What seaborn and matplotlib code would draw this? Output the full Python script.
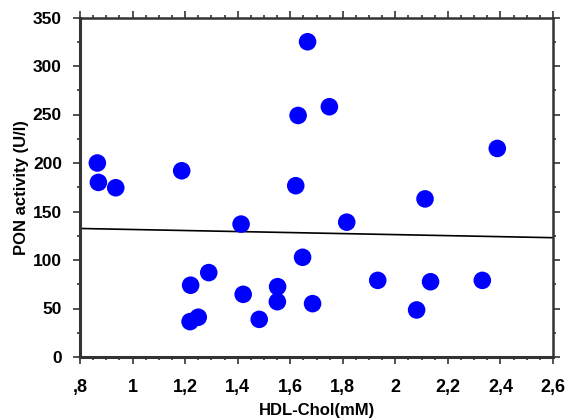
import matplotlib
matplotlib.use("Agg")
import matplotlib.pyplot as plt
import seaborn as sns
import pandas as pd
from matplotlib.ticker import MultipleLocator

hdl_chol = [0.866, 0.870, 0.936, 1.187, 1.413, 1.221, 1.290, 1.219, 1.250,
            1.421, 1.482, 1.552, 1.551, 1.647, 1.685, 1.621, 1.630, 1.666,
            1.749, 1.815, 1.933, 2.081, 2.113, 2.134, 2.331, 2.388]
pon_activity = [200, 180, 174.5, 192, 137, 74, 87, 36.5, 41,
                64.6, 38.8, 72.5, 57, 102.8, 55, 176.6, 249, 325,
                258, 139, 79, 48.5, 163, 77.6, 79, 215]
fit_x = [0.8, 2.6]
fit_y = [132.5, 123]
x_ticks = [0.8, 1.0, 1.2, 1.4, 1.6, 1.8, 2.0, 2.2, 2.4, 2.6]
x_tick_labels = [",8", "1", "1,2", "1,4", "1,6", "1,8", "2", "2,2", "2,4", "2,6"]
y_ticks = [0, 50, 100, 150, 200, 250, 300, 350]

sns.set_style("ticks")
plt.rcParams['font.family'] = ['Liberation Sans', 'DejaVu Sans']
plt.rcParams['text.color'] = 'black'
plt.rcParams['axes.labelcolor'] = 'black'
plt.rcParams['xtick.labelcolor'] = 'black'
plt.rcParams['ytick.labelcolor'] = 'black'

df = pd.DataFrame({"x": hdl_chol, "y": pon_activity})
fit = pd.DataFrame({"x": fit_x, "y": fit_y})

fig = plt.figure(figsize=(5.68, 4.2), dpi=100)
ax = fig.add_axes([80/568, 1-357/420, (553-80)/568, (357-17.5)/420])

sns.lineplot(data=fit, x="x", y="y", ax=ax, color="black", linewidth=1.2)
sns.scatterplot(data=df, x="x", y="y", ax=ax, color="#0000ff", s=160,
                edgecolor="none", zorder=3)

ax.set_xlim(0.8, 2.6)
ax.set_ylim(0, 350)
ax.set_xticks(x_ticks)
ax.set_xticklabels(x_tick_labels, fontsize=13, fontweight="bold")
ax.set_yticks(y_ticks)
ax.set_yticklabels([str(v) for v in y_ticks], fontsize=12.5, fontweight="bold")
ax.xaxis.set_minor_locator(MultipleLocator(0.05))
ax.yaxis.set_minor_locator(MultipleLocator(25))
ax.tick_params(which="both", direction="out", top=True, right=True,
               color="#333333", width=1.2)
ax.tick_params(which="major", length=5)
ax.tick_params(which="minor", length=2.5)
ax.tick_params(axis="x", labeltop=False, pad=11)
ax.tick_params(axis="y", labelright=False, pad=8)

for side in ["left", "bottom"]:
    ax.spines[side].set_linewidth(2.2)
    ax.spines[side].set_color("#333333")
for side in ["top", "right"]:
    ax.spines[side].set_visible(True)
    ax.spines[side].set_linewidth(1.8)
    ax.spines[side].set_color("#333333")

ax.set_xlabel("HDL-Chol(mM)", fontsize=12, fontweight="bold", labelpad=5)
ax.set_ylabel("PON activity (U/l)", fontsize=12, fontweight="bold", labelpad=3)

fig.savefig("out.png", dpi=100)
